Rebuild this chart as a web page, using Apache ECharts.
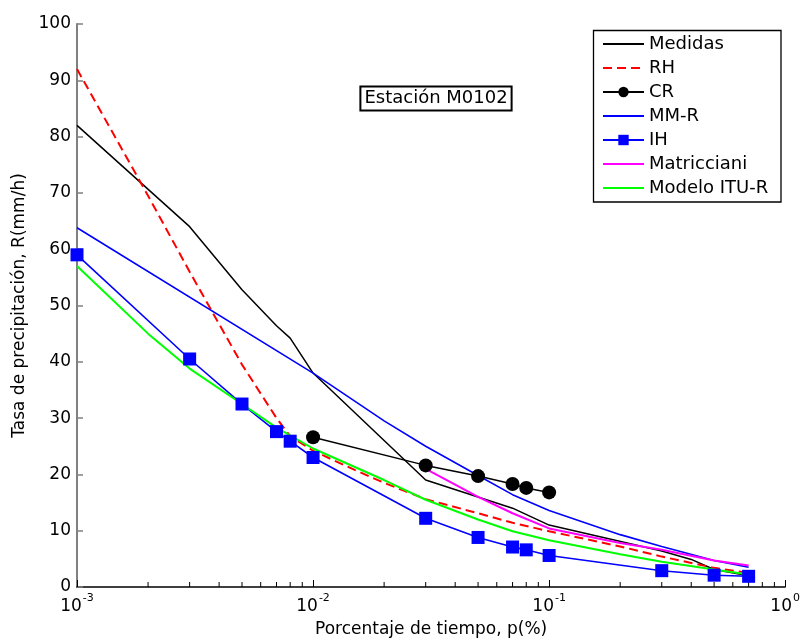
<!DOCTYPE html>
<html>
<head>
<meta charset="utf-8">
<script src="https://cdn.jsdelivr.net/npm/echarts@6/dist/echarts.min.js"></script>
<style>html,body{margin:0;padding:0;background:#fff}#c{width:803px;height:643px}</style>
</head>
<body>
<div id="c"></div>
<script>
const FONT = 'DejaVu Sans';

const seriesNames = ['Medidas', 'RH', 'CR', 'MM-R', 'IH', 'Matricciani', 'Modelo ITU-R'];
const seriesWithMarkers = ['CR', 'IH'];

const medidasX = [0.001, 0.003, 0.005, 0.007, 0.008, 0.01, 0.03, 0.07, 0.1, 0.3, 0.4, 0.5, 0.7];
const medidasY = [82, 64, 52.8, 46.4, 44.2, 38, 19, 14, 11, 6.4, 4.9, 3.1, 2.0];

const rhX = [0.001, 0.002, 0.003, 0.005, 0.007, 0.008, 0.01, 0.015, 0.02, 0.03, 0.05, 0.07, 0.1, 0.2, 0.3, 0.5, 0.7];
const rhY = [92, 69.5, 56, 39.5, 30, 26.8, 24.2, 20.8, 18.5, 15.6, 13.1, 11.4, 9.9, 7.2, 5.4, 3.4, 2.5];

const crX = [0.01, 0.03, 0.05, 0.07, 0.08, 0.1];
const crY = [26.6, 21.6, 19.7, 18.3, 17.6, 16.8];

const mmrX = [0.001, 0.01, 0.02, 0.03, 0.05, 0.07, 0.1, 0.2, 0.3, 0.5, 0.7];
const mmrY = [63.8, 38, 29.5, 25, 19.8, 16.4, 13.6, 9.3, 7.2, 4.7, 3.5];

const ihX = [0.001, 0.003, 0.005, 0.007, 0.008, 0.01, 0.03, 0.05, 0.07, 0.08, 0.1, 0.3, 0.5, 0.7];
const ihY = [59, 40.5, 32.5, 27.6, 25.9, 23, 12.2, 8.8, 7.1, 6.6, 5.6, 2.9, 2.1, 1.9];

const matX = [0.03, 0.04, 0.05, 0.07, 0.1, 0.2, 0.3, 0.5, 0.7];
const matY = [21, 18.2, 16, 13.1, 10.4, 7.8, 6.6, 4.7, 3.8];

const ituX = [0.001, 0.002, 0.003, 0.005, 0.007, 0.01, 0.02, 0.03, 0.05, 0.07, 0.1, 0.2, 0.3, 0.5, 0.7];
const ituY = [57, 45, 38.8, 32.5, 28.3, 24.6, 19, 15.5, 12, 9.9, 8.3, 5.8, 4.5, 3.1, 2.2];

const xMinorTicks = [0.002, 0.003, 0.004, 0.005, 0.006, 0.007, 0.008, 0.009,
                     0.02, 0.03, 0.04, 0.05, 0.06, 0.07, 0.08, 0.09,
                     0.2, 0.3, 0.4, 0.5, 0.6, 0.7, 0.8, 0.9];

const annotationText = 'Estación M0102';
const xAxisName = 'Porcentaje de tiempo, p(%)';
const yAxisName = 'Tasa de precipitación, R(mm/h)';

function pairs(xs, ys) { return xs.map((x, i) => [x, ys[i]]); }

const chart = echarts.init(document.getElementById('c'), null, { renderer: 'canvas' });

const lineBase = { type: 'line', symbol: 'none', animation: false, z: 3 };

const legendData = seriesNames.map(n => seriesWithMarkers.indexOf(n) >= 0
  ? { name: n }
  : { name: n, itemStyle: { color: 'rgba(0,0,0,0)', borderColor: 'rgba(0,0,0,0)', borderWidth: 0 } });

const option = {
  animation: false,
  backgroundColor: '#fff',
  grid: { left: 77, right: 16, top: 24, bottom: 52, containLabel: false },
  xAxis: {
    type: 'log', logBase: 10, min: 0.001, max: 1,
    name: xAxisName, nameLocation: 'middle', nameGap: 34,
    nameTextStyle: { fontFamily: FONT, fontSize: 17, color: '#000' },
    axisLine: { show: true, lineStyle: { color: '#000', width: 1.5 } },
    axisTick: { show: true, inside: true, length: 7, lineStyle: { color: '#000', width: 1 } },
    splitLine: { show: false },
    minorTick: { show: false },
    axisLabel: {
      margin: 6,
      formatter: function (v) {
        const e = Math.round(Math.log10(v));
        return '{b|10}{s|' + e + '}';
      },
      rich: {
        b: { fontFamily: FONT, fontSize: 17, color: '#000', lineHeight: 22, verticalAlign: 'bottom' },
        s: { fontFamily: FONT, fontSize: 11, color: '#000', lineHeight: 22, verticalAlign: 'top', padding: [0, 0, 0, 1] }
      }
    }
  },
  yAxis: {
    type: 'value', min: 0, max: 100, interval: 10,
    name: yAxisName, nameLocation: 'middle', nameGap: 46,
    nameTextStyle: { fontFamily: FONT, fontSize: 17, color: '#000' },
    axisLine: { show: true, lineStyle: { color: '#808080', width: 2 } },
    axisTick: { show: true, inside: true, length: 6, lineStyle: { color: '#808080', width: 1.5 } },
    splitLine: { show: false },
    axisLabel: { fontFamily: FONT, fontSize: 17, color: '#000', margin: 6 }
  },
  legend: {
    show: true,
    data: legendData,
    orient: 'vertical',
    left: 602, top: 35,
    itemWidth: 41, itemHeight: 13, itemGap: 6,
    padding: 0,
    textStyle: { fontFamily: FONT, fontSize: 18, color: '#000', lineHeight: 18 },
    selectedMode: false
  },
  graphic: [
    {
      type: 'rect', z: 0, zlevel: 0,
      shape: { x: 593.5, y: 30.5, width: 187.5, height: 171.5 },
      style: { fill: '#fff', stroke: '#000', lineWidth: 1.3 }
    },
    {
      type: 'text', x: 436, y: 98.5, z: 100,
      style: {
        text: annotationText, fontFamily: FONT, fontSize: 18, fill: '#000',
        align: 'center', verticalAlign: 'middle',
        backgroundColor: '#fff', borderColor: '#000', borderWidth: 2,
        padding: [1, 3, 1, 3], lineHeight: 20
      }
    }
  ],
  series: [
    Object.assign({}, lineBase, { name: 'Medidas', data: pairs(medidasX, medidasY),
      lineStyle: { color: '#000', width: 1.5 }, itemStyle: { color: '#000' } }),
    Object.assign({}, lineBase, { name: 'RH', data: pairs(rhX, rhY),
      lineStyle: { color: '#ff0000', width: 2, type: [9, 5] }, itemStyle: { color: '#ff0000' } }),
    Object.assign({}, lineBase, { name: 'CR', data: pairs(crX, crY), symbol: 'circle', symbolSize: 14, showSymbol: true,
      lineStyle: { color: '#000', width: 1.5 }, itemStyle: { color: '#000' } }),
    Object.assign({}, lineBase, { name: 'MM-R', data: pairs(mmrX, mmrY),
      lineStyle: { color: '#0000ff', width: 1.6 }, itemStyle: { color: '#0000ff' } }),
    Object.assign({}, lineBase, { name: 'IH', data: pairs(ihX, ihY), symbol: 'rect', symbolSize: 13, showSymbol: true,
      lineStyle: { color: '#0000ff', width: 1.6 }, itemStyle: { color: '#0000ff' } }),
    Object.assign({}, lineBase, { name: 'Matricciani', data: pairs(matX, matY),
      lineStyle: { color: '#ff00ff', width: 2 }, itemStyle: { color: '#ff00ff' } }),
    Object.assign({}, lineBase, { name: 'Modelo ITU-R', data: pairs(ituX, ituY),
      lineStyle: { color: '#00ff00', width: 2 }, itemStyle: { color: '#00ff00' } }),
    {
      type: 'custom', name: 'minorTicks', silent: true, animation: false, z: 2,
      data: xMinorTicks.map(v => [v, 0]),
      renderItem: function (params, api) {
        const p = api.coord([api.value(0), 0]);
        return { type: 'line', shape: { x1: p[0], y1: p[1], x2: p[0], y2: p[1] - 5 },
                 style: { stroke: '#000', lineWidth: 1 } };
      }
    }
  ]
};
chart.setOption(option);
</script>
</body>
</html>
